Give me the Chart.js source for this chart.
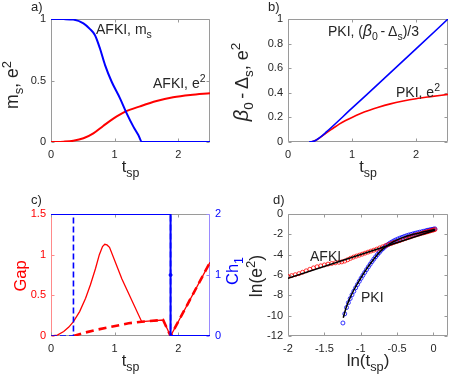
<!DOCTYPE html>
<html>
<head>
<meta charset="utf-8">
<script src="https://cdn.jsdelivr.net/npm/chart.js@4.4.0/dist/chart.umd.min.js"></script>
<style>
  html, body { margin: 0; padding: 0; background: #fff; }
  #fig { position: relative; width: 457px; height: 383px; overflow: hidden; background: #fff; }
  #fig canvas { position: absolute; }
</style>
</head>
<body>
<div id="fig">
  <canvas id="pa" width="228" height="190" style="left:0;top:0"></canvas>
  <canvas id="pb" width="229" height="190" style="left:228px;top:0"></canvas>
  <canvas id="pc" width="245" height="193" style="left:0;top:190px"></canvas>
  <canvas id="pd" width="229" height="193" style="left:228px;top:190px"></canvas>
</div>
<script>
// ---- data ----
// a) AFKI
const msT = [0, 0.2, 0.35, 0.51, 0.61, 0.69, 0.77, 0.85, 0.954, 1.085, 1.19, 1.295, 1.373, 1.43, 2.5];
const msVal = [1, 0.999, 0.995, 0.965, 0.92, 0.87, 0.76, 0.625, 0.49, 0.355, 0.233, 0.125, 0.057, 0, 0];
const e2aT = [0, 0.2, 0.35, 0.51, 0.666, 0.82, 0.98, 1.16, 1.4, 1.66, 1.92, 2.19, 2.5];
const e2aVal = [0, 0.003, 0.01, 0.03, 0.07, 0.13, 0.19, 0.245, 0.29, 0.333, 0.363, 0.382, 0.396];

// b) PKI
const betaT = [0.33, 0.38, 0.43, 0.5, 0.6, 1.0, 1.5, 2.0, 2.5];
const betaVal = [0, 0.003, 0.012, 0.037, 0.082, 0.275, 0.515, 0.757, 1.0];
const e2bT = [0.35, 0.4, 0.45, 0.5, 0.6, 0.7, 0.8, 0.9, 1.0, 1.2, 1.4, 1.6, 1.8, 2.0, 2.2, 2.5];
const e2bVal = [0, 0.006, 0.018, 0.035, 0.075, 0.11, 0.145, 0.175, 0.2, 0.245, 0.28, 0.31, 0.333, 0.352, 0.367, 0.387];

// c) gap and Chern number
const gapT = [0, 0.1, 0.2, 0.28, 0.353, 0.45, 0.544, 0.62, 0.7, 0.76, 0.81, 0.845, 0.88, 0.92, 1.115, 1.426, 1.763, 1.88, 2.5];
const gapVal = [0, 0.012, 0.055, 0.11, 0.176, 0.3, 0.463, 0.63, 0.83, 1.0, 1.1, 1.127, 1.12, 1.09, 0.7, 0.176, 0.197, 0, 0.906];
const gapDashT = [0.353, 0.5, 0.7, 0.9, 1.22, 1.426, 1.763, 1.88, 2.5];
const gapDashVal = [0, 0.035, 0.074, 0.105, 0.156, 0.176, 0.197, 0, 0.906];
const chT = [0, 1.88, 1.88, 2.5];
const chVal = [2, 2, 0, 0];
const chDashT = [0, 0.353, 0.353, 1.88, 1.88, 2.5];
const chDashVal = [0, 0, 2, 2, 0, 0];
const chDotT = [1.88];
const chDotVal = [1];

// d) log-log
const afkiLnT = [-2.0, -1.95, -1.9, -1.85, -1.8, -1.75, -1.7, -1.65, -1.6, -1.55, -1.5, -1.45, -1.4, -1.35, -1.3, -1.26, -1.22, -1.18, -1.14, -1.1, -1.06, -1.02, -0.98, -0.94, -0.9, -0.86, -0.82, -0.78, -0.74, -0.7, -0.66, -0.62, -0.58, -0.54, -0.5, -0.46, -0.42, -0.38, -0.35, -0.32, -0.29, -0.26, -0.23, -0.2, -0.17, -0.14, -0.12, -0.1, -0.08, -0.06, -0.04, -0.02, 0.0, 0.02];
const afkiLnE = [-6.15, -6.06, -5.97, -5.87, -5.73, -5.59, -5.44, -5.3, -5.19, -5.1, -5.01, -4.93, -4.87, -4.8, -4.75, -4.71, -4.63, -4.5, -4.36, -4.24, -4.14, -4.05, -3.95, -3.85, -3.75, -3.65, -3.56, -3.46, -3.34, -3.23, -3.12, -3.01, -2.91, -2.8, -2.71, -2.61, -2.5, -2.4, -2.32, -2.25, -2.17, -2.1, -2.04, -1.98, -1.92, -1.86, -1.82, -1.77, -1.74, -1.69, -1.65, -1.61, -1.57, -1.53];
const pkiLnT = [-1.245, -1.22, -1.195, -1.17, -1.145, -1.12, -1.095, -1.07, -1.045, -1.02, -0.995, -0.97, -0.945, -0.92, -0.895, -0.87, -0.845, -0.82, -0.795, -0.77, -0.745, -0.72, -0.695, -0.67, -0.645, -0.62, -0.595, -0.57, -0.545, -0.52, -0.49, -0.46, -0.43, -0.4, -0.37, -0.34, -0.31, -0.28, -0.25, -0.22, -0.19, -0.16, -0.13, -0.1, -0.08, -0.06, -0.04, -0.02, 0.0, 0.02];
const pkiLnE = [-10.72, -9.82, -9.2, -8.72, -8.32, -7.95, -7.6, -7.26, -6.94, -6.62, -6.32, -6.03, -5.75, -5.47, -5.2, -4.94, -4.68, -4.44, -4.21, -3.99, -3.79, -3.57, -3.4, -3.24, -3.1, -2.97, -2.85, -2.75, -2.65, -2.56, -2.46, -2.37, -2.29, -2.21, -2.14, -2.07, -2.01, -1.95, -1.89, -1.84, -1.79, -1.74, -1.69, -1.64, -1.61, -1.58, -1.55, -1.52, -1.49, -1.46];
const afkiFitT = [-2.0, 0.02];
const afkiFitE = [-6.32, -1.59];
const pkiFitT = [-1.24, -1.2, -1.15, -1.1, -1.0, -0.9, -0.8, -0.72, -0.6, -0.5, -0.3, 0.0, 0.02];
const pkiFitE = [-10.2, -9.2, -8.3, -7.55, -6.3, -5.2, -4.25, -3.6, -2.95, -2.55, -2.05, -1.55, -1.52];

// ticks
const tspTicks = [0, 1, 2];
const abTicksA = [0, 0.5, 1];
const abTicksB = [0, 0.2, 0.4, 0.6, 0.8, 1];
const gapTicks = [0, 0.5, 1, 1.5];
const chTicks = [0, 1, 2];
const lnTTicks = [-2, -1.5, -1, -0.5, 0];
const lnETicks = [0, -2, -4, -6, -8, -10, -12];

// ---- helpers ----
const FAM = "'Liberation Sans', Arial, sans-serif";
const BLUE = "#0000ff", RED = "#ff0000", INK = "#262626", BOX = "#9a9a9a";

const pts = (xs, ys) => xs.map((x, i) => ({ x: x, y: ys[i] }));

// parts: [text, kind]  kind: "" normal, "b" subscript, "p" superscript, "i" italic greek
function rich(ctx, parts, x, y, size, color, align, rot) {
    const sz = (k) => (k === "b" || k === "p") ? size * 0.75 : k === "i" ? size * 1.12 : size;
    const fontOf = (k) => (k === "i" ? "italic " : "") + sz(k) + "px " + FAM;
    ctx.save();
    ctx.fillStyle = color;
    ctx.textBaseline = "alphabetic";
    ctx.textAlign = "left";
    let w = 0;
    parts.forEach(([t, k]) => { ctx.font = fontOf(k); w += ctx.measureText(t).width; });
    ctx.translate(x, y);
    if (rot) ctx.rotate(rot);
    let cx = align === "center" ? -w / 2 : 0;
    parts.forEach(([t, k]) => {
        ctx.font = fontOf(k);
        const dy = k === "b" ? size * 0.28 : k === "p" ? -size * 0.42 : 0;
        ctx.fillText(t, cx, dy);
        cx += ctx.measureText(t).width;
    });
    ctx.restore();
}

// box, inward tick marks and rich-text labels
const frame = {
    id: "frame",
    beforeDatasetsDraw(chart, args, o) {
        const { ctx, chartArea: a, scales } = chart;
        const L = Math.round(a.left) + 0.5, R = Math.round(a.right) - 0.5;
        const T = Math.round(a.top) + 0.5, B = Math.round(a.bottom) - 0.5;
        const line = (x1, y1, x2, y2, c) => {
            ctx.strokeStyle = c; ctx.beginPath(); ctx.moveTo(x1, y1); ctx.lineTo(x2, y2); ctx.stroke();
        };
        ctx.save();
        ctx.lineWidth = 1;
        line(L, T, R, T, BOX);
        line(L, B, R, B, BOX);
        line(L, T, L, B, o.left || BOX);
        line(R, T, R, B, o.right || BOX);
        const tl = 3;
        scales.x.ticks.forEach((t) => {
            const px = Math.round(scales.x.getPixelForValue(t.value)) + 0.5;
            line(px, B, px, B - tl, BOX);
            line(px, T, px, T + tl, BOX);
        });
        scales.y.ticks.forEach((t) => {
            const py = Math.round(scales.y.getPixelForValue(t.value)) + 0.5;
            line(L, py, L + tl, py, o.left || BOX);
            if (!scales.y2) line(R, py, R - tl, py, BOX);
        });
        if (scales.y2) {
            scales.y2.ticks.forEach((t) => {
                const py = Math.round(scales.y2.getPixelForValue(t.value)) + 0.5;
                line(R, py, R - tl, py, o.right || BOX);
            });
        }
        ctx.restore();
    },
    afterDraw(chart, args, o) {
        (o.labels || []).forEach((l) => rich(chart.ctx, l.p, l.x, l.y, l.s || 14, l.c || INK, l.a, l.r));
    },
};

function xAxis(min, max, list, h) {
    return {
        type: "linear", min: min, max: max,
        grid: { display: false, drawTicks: false }, border: { display: false },
        ticks: { color: INK, padding: 6, font: { family: FAM, size: 11 }, callback: (v) => String(v) },
        afterBuildTicks: (s) => { s.ticks = list.map((v) => ({ value: v })); },
        afterFit: (s) => { s.height = h; },
    };
}
function yAxis(min, max, list, w, pos, color) {
    return {
        type: "linear", min: min, max: max, position: pos || "left",
        grid: { display: false, drawTicks: false }, border: { display: false },
        ticks: { color: color || INK, padding: 5, font: { family: FAM, size: 11 }, callback: (v) => String(v) },
        afterBuildTicks: (s) => { s.ticks = list.map((v) => ({ value: v })); },
        afterFit: (s) => { s.width = w; },
    };
}
function ln(data, color, width, extra) {
    return Object.assign({
        data: data, showLine: true, borderColor: color, borderWidth: width,
        pointRadius: 0, fill: false, tension: 0,
    }, extra || {});
}
function base(datasets, scales, padding, labels, frameOpts) {
    return {
        type: "scatter",
        data: { datasets: datasets },
        options: {
            responsive: false, animation: false, devicePixelRatio: 1,
            layout: { padding: padding },
            plugins: { legend: { display: false }, tooltip: { enabled: false },
                frame: Object.assign({ labels: labels }, frameOpts || {}) },
            scales: scales,
        },
        plugins: [frame],
    };
}
const UP = -Math.PI / 2;

// a)
new Chart(document.getElementById("pa"), base(
    [
        ln(pts(msT, msVal), BLUE, 2, { cubicInterpolationMode: "monotone" }),
        ln(pts(e2aT, e2aVal), RED, 2, { cubicInterpolationMode: "monotone" }),
    ],
    { x: xAxis(0, 2.5, tspTicks, 48), y: yAxis(0, 1, abTicksA, 51) },
    { left: 0, top: 19, right: 18, bottom: 0 },
    [
        { p: [["a)", ""]], x: 31, y: 11, s: 13 },
        { p: [["m", ""], ["s", "b"], [", e", ""], ["2", "p"]], x: 18, y: 85, s: 17.5, a: "center", r: UP },
        { p: [["t", ""], ["sp", "b"]], x: 130.5, y: 172, s: 16.5, a: "center" },
        { p: [["AFKI, m", ""], ["s", "b"]], x: 96, y: 34 },
        { p: [["AFKI, e", ""], ["2", "p"]], x: 153, y: 88 },
    ]
));

// b)
new Chart(document.getElementById("pb"), base(
    [
        ln(pts(betaT, betaVal), BLUE, 1.6, { cubicInterpolationMode: "monotone" }),
        ln(pts(e2bT, e2bVal), RED, 1.6, { cubicInterpolationMode: "monotone" }),
    ],
    { x: xAxis(0, 2.5, tspTicks, 48), y: yAxis(0, 1, abTicksB, 60) },
    { left: 0, top: 19, right: 9, bottom: 0 },
    [
        { p: [["b)", ""]], x: 40, y: 11, s: 13 },
        { p: [["β", "i"], ["0", "b"], ["\u2009-\u2009", ""], ["Δ", ""], ["s", "b"], [", e", ""], ["2", "p"]], x: 20, y: 82, s: 18, a: "center", r: UP },
        { p: [["t", ""], ["sp", "b"]], x: 140, y: 172, s: 16.5, a: "center" },
        { p: [["PKI, (", ""], ["β", "i"], ["0", "b"], ["\u2009-\u2009", ""], ["Δ", ""], ["s", "b"], [")/3", ""]], x: 100, y: 36 },
        { p: [["PKI, e", ""], ["2", "p"]], x: 168, y: 97 },
    ]
));

// c)
new Chart(document.getElementById("pc"), base(
    [
        ln(pts(chDotT, chDotVal), BLUE, 1, { showLine: false, pointRadius: 1.5, pointBackgroundColor: BLUE, yAxisID: "y2" }),
        ln(pts(chT, chVal), BLUE, 2, { yAxisID: "y2" }),
        ln(pts(chDashT, chDashVal), BLUE, 1.6, { borderDash: [6, 3], yAxisID: "y2" }),
        ln(pts(gapDashT, gapDashVal), RED, 2.6, { borderDash: [8, 5], yAxisID: "y" }),
        ln(pts(gapT, gapVal), RED, 1.3, { yAxisID: "y" }),
    ],
    {
        x: xAxis(0, 2.5, tspTicks, 47),
        y: yAxis(0, 1.5, gapTicks, 51, "left", RED),
        y2: yAxis(0, 2, chTicks, 35, "right", BLUE),
    },
    { left: 0, top: 24, right: 0, bottom: 0 },
    [
        { p: [["c)", ""]], x: 31, y: 14, s: 13 },
        { p: [["Gap", ""]], x: 26, y: 86, s: 16.5, c: RED, a: "center", r: UP },
        { p: [["Ch", ""], ["1", "b"]], x: 238, y: 81, s: 16.5, c: BLUE, a: "center", r: UP },
        { p: [["t", ""], ["sp", "b"]], x: 130.5, y: 176, s: 16.5, a: "center" },
    ],
    { left: "#ff8a8a", right: "#9a8aff" }
));

// d)
new Chart(document.getElementById("pd"), base(
    [
        ln(pts(afkiFitT, afkiFitE), "#000000", 1.5),
        ln(pts(pkiFitT, pkiFitE), "#000000", 1.5, { cubicInterpolationMode: "monotone" }),
        ln(pts(afkiLnT, afkiLnE), RED, 1, { showLine: false, pointRadius: 2, pointBorderColor: RED, pointBackgroundColor: "rgba(0,0,0,0)", pointBorderWidth: 0.8 }),
        ln(pts(pkiLnT, pkiLnE), BLUE, 1, { showLine: false, pointRadius: 2, pointBorderColor: BLUE, pointBackgroundColor: "rgba(0,0,0,0)", pointBorderWidth: 0.8 }),
    ],
    { x: xAxis(-2, 0.2, lnTTicks, 47), y: yAxis(-12, 0, lnETicks, 60) },
    { left: 0, top: 24, right: 9, bottom: 0 },
    [
        { p: [["d)", ""]], x: 45, y: 14, s: 13 },
        { p: [["ln(e", ""], ["2", "p"], [")", ""]], x: 34, y: 86, s: 17.5, a: "center", r: UP },
        { p: [["ln(t", ""], ["sp", "b"], [")", ""]], x: 140, y: 176, s: 17, a: "center" },
        { p: [["AFKI", ""]], x: 82, y: 71 },
        { p: [["PKI", ""]], x: 133, y: 112 },
    ]
));
</script>
</body>
</html>
